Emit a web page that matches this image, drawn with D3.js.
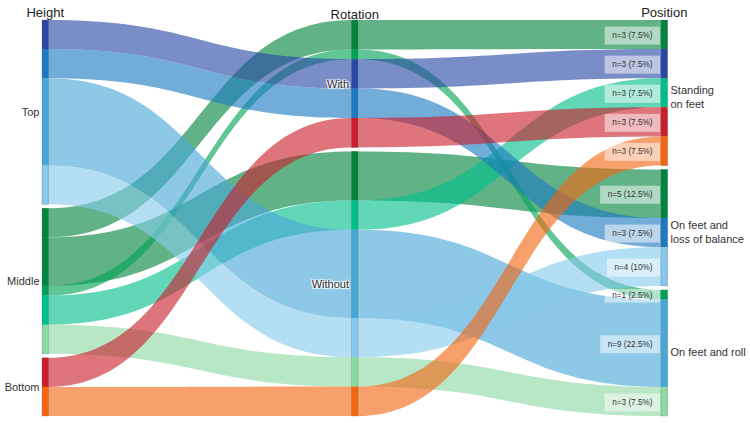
<!DOCTYPE html>
<html>
<head>
<meta charset="utf-8">
<script src="https://cdn.jsdelivr.net/npm/d3@7"></script>
<style>
  html, body { margin: 0; padding: 0; background: #fff; }
  svg { display: block; font-family: "Liberation Sans", Arial, sans-serif; }
  .cat { text-shadow: 1px 1px 1px #fff, -1px -1px 1px #fff, 1px -1px 1px #fff, -1px 1px 1px #fff; }
</style>
</head>
<body>
<svg id="chart" width="750" height="423"></svg>
<script>
// ---- data ----
const dimensions = ["Height", "Rotation", "Position"];
const heightCats = ["Top", "Middle", "Bottom"];
const rotationCats = ["With", "Without"];
const positionCats = ["Standing on feet", "On feet and loss of balance", "On feet and roll"];
const positionLabels = [["Standing", "on feet"], ["On feet and", "loss of balance"], ["On feet and roll"]];

// paths (combinations), listed in stacking order
const pathHeight   = ["Middle", "Middle", "Middle", "Top", "Middle", "Top", "Top", "Top", "Middle", "Bottom", "Bottom"];
const pathRotation = ["With", "Without", "With", "With", "Without", "With", "Without", "Without", "Without", "With", "Without"];
const pathPosition = ["Standing on feet", "On feet and loss of balance", "On feet and roll", "Standing on feet",
                      "Standing on feet", "On feet and loss of balance", "On feet and roll", "On feet and loss of balance",
                      "On feet and roll", "Standing on feet", "Standing on feet"];
const pathCount    = [3, 5, 1, 3, 3, 3, 9, 4, 3, 3, 3];
const pathColor    = ["#00843e", "#00843e", "#00a356", "#2747a3", "#00bf8c", "#1c79c2", "#47a7d6",
                      "#86c9ec", "#8dd9a3", "#c91f2b", "#f46612"];

// ---- layout ----
const yTop = 20, yBottom = 416, gap = 4, barW = 6.5;
const svg = d3.select("#chart");

const x = d3.scalePoint().domain(dimensions).range([42, 661]);
const total = d3.sum(pathCount);
const dimCats = [heightCats, rotationCats, positionCats];
const pathVals = [pathHeight, pathRotation, pathPosition];

const dimInfo = dimensions.map((dim, d) => {
  const cats = dimCats[d];
  const y = d3.scaleLinear().domain([0, total]).range([0, (yBottom - yTop) - gap * (cats.length - 1)]);
  const catPos = {};
  let cum = 0;
  cats.forEach((c, i) => {
    const cnt = d3.sum(pathCount.filter((_, p) => pathVals[d][p] === c));
    const y0 = yTop + y(cum) + gap * i;
    catPos[c] = { y0, y1: y0 + y(cnt), count: cnt };
    cum += cnt;
  });
  const seg = [];
  const running = {};
  cats.forEach(c => running[c] = catPos[c].y0);
  pathCount.forEach((cnt, p) => {
    const c = pathVals[d][p];
    const y0 = running[c];
    const h = y(cnt);
    seg[p] = { y0, y1: y0 + h };
    running[c] += h;
  });
  return { dim, cats, catPos, seg, x: x(dim) };
});

// ---- flows ----
const gFlows = svg.append("g");
pathCount.forEach((cnt, p) => {
  const pth = d3.path();
  const n = dimInfo.length;
  pth.moveTo(dimInfo[0].x, dimInfo[0].seg[p].y0);
  for (let d = 0; d < n; d++) {
    const di = dimInfo[d];
    pth.lineTo(di.x + barW, di.seg[p].y0);
    if (d < n - 1) {
      const nx = dimInfo[d + 1];
      const mid = (di.x + barW + nx.x) / 2;
      pth.bezierCurveTo(mid, di.seg[p].y0, mid, nx.seg[p].y0, nx.x, nx.seg[p].y0);
    }
  }
  for (let d = n - 1; d >= 0; d--) {
    const di = dimInfo[d];
    pth.lineTo(di.x + barW, di.seg[p].y1);
    pth.lineTo(di.x, di.seg[p].y1);
    if (d > 0) {
      const pv = dimInfo[d - 1];
      const mid = (pv.x + barW + di.x) / 2;
      pth.bezierCurveTo(mid, di.seg[p].y1, mid, pv.seg[p].y1, pv.x + barW, pv.seg[p].y1);
    }
  }
  pth.closePath();
  gFlows.append("path")
    .attr("d", pth.toString())
    .attr("fill", pathColor[p])
    .attr("fill-opacity", 0.62)
    .attr("stroke", "none");
});

// ---- bars ----
const gBars = svg.append("g");
dimInfo.forEach(di => {
  pathCount.forEach((cnt, p) => {
    gBars.append("rect")
      .attr("x", di.x).attr("y", di.seg[p].y0)
      .attr("width", barW).attr("height", di.seg[p].y1 - di.seg[p].y0)
      .attr("fill", pathColor[p]);
  });
  di.cats.forEach(c => {
    gBars.append("rect")
      .attr("x", di.x).attr("y", di.catPos[c].y0)
      .attr("width", barW).attr("height", di.catPos[c].y1 - di.catPos[c].y0)
      .attr("fill", "none").attr("stroke", "#666").attr("stroke-opacity", 0.45).attr("stroke-width", 0.6);
  });
});

// ---- n labels on last dimension ----
const last = dimInfo[dimInfo.length - 1];
const gN = svg.append("g");
pathCount.forEach((cnt, p) => {
  const s = last.seg[p];
  const cy = (s.y0 + s.y1) / 2;
  const label = `n=${cnt} (${d3.format(".3~f")(cnt / total * 100)}%)`;
  const t = gN.append("text")
    .attr("font-size", 8.2).attr("fill", "#333").attr("text-anchor", "middle")
    .text(label);
  const tw = t.node().getComputedTextLength();
  const bw = tw + 15;
  const bh = Math.min(18, (s.y1 - s.y0) + 4);
  const bx = last.x - 1 - bw;
  gN.insert("rect", "text")
    .attr("x", bx).attr("y", cy - bh / 2 + 1)
    .attr("width", bw).attr("height", bh)
    .attr("fill", "#fff").attr("fill-opacity", 0.5);
  t.attr("x", bx + bw / 2).attr("y", cy + 3.5);
});

// ---- dimension titles ----
const titleY = [17, 19, 17];
dimInfo.forEach((di, d) => {
  svg.append("text")
    .attr("x", di.x + barW / 2).attr("y", titleY[d])
    .attr("text-anchor", "middle").attr("font-size", 13).attr("fill", "#222")
    .text(di.dim);
});

// ---- category labels ----
[0, 1].forEach(d => {
  const di = dimInfo[d];
  di.cats.forEach(c => {
    const cy = (di.catPos[c].y0 + di.catPos[c].y1) / 2;
    svg.append("text").attr("class", "cat")
      .attr("x", di.x - 2.5).attr("y", cy + 4)
      .attr("text-anchor", "end").attr("font-size", 11).attr("fill", "#333")
      .text(c);
  });
});
last.cats.forEach((c, i) => {
  const cy = (last.catPos[c].y0 + last.catPos[c].y1) / 2;
  const lines = positionLabels[i];
  const t = svg.append("text").attr("class", "cat")
    .attr("x", last.x + barW + 3).attr("font-size", 11).attr("fill", "#333");
  const y0 = lines.length === 1 ? cy + 3.5 : cy + 1;
  lines.forEach((ln, k) => {
    t.append("tspan").attr("x", last.x + barW + 3).attr("y", y0 + k * 14).text(ln);
  });
});
</script>
</body>
</html>
